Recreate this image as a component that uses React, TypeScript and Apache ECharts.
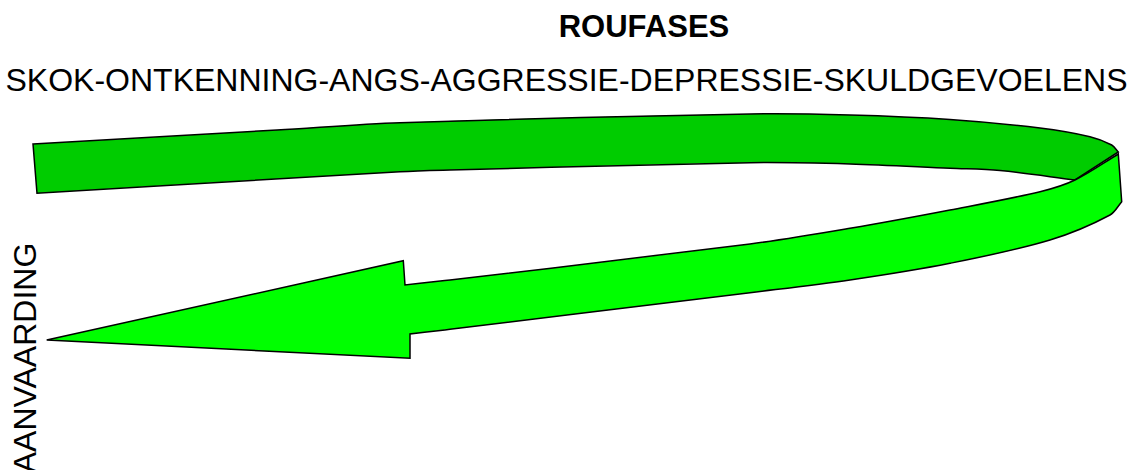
import React, { useEffect, useRef } from "react";
import * as echarts from "echarts";

// ---- Text content ----
const TITLE = "ROUFASES";
const PHASES = ["SKOK", "ONTKENNING", "ANGS", "AGGRESSIE", "DEPRESSIE", "SKULDGEVOELENS"];
const FINAL_PHASE = "AANVAARDING";

// ---- Ribbon outline points (in the 1135 x 470 data space) ----
// Top (dark) surface of the ribbon
const DARK_TOP_EDGE: number[][] = [
  [33, 144], [277, 130], [400, 122.7], [750, 114], [850, 115], [950, 119.5],
  [1040, 128], [1090, 136.7], [1111.7, 145], [1118.3, 152],
];
const DARK_INNER_EDGE: number[][] = [
  [1075, 180], [1000, 170.5], [950, 168.3], [850, 164], [750, 162.7], [450, 170], [400, 171.7], [37, 193.3],
];
// Front (light) band with the arrow head
const FRONT_TOP_EDGE: number[][] = [
  [1118.3, 154], [1075, 180], [1040, 191.7], [950, 210], [850, 228.3], [750, 244], [450, 280], [405, 285],
];
const ARROW_HEAD: number[][] = [
  [403.3, 260.7], [46.7, 340], [410, 358.3], [410, 334],
];
const FRONT_BOTTOM_EDGE: number[][] = [
  [410, 334], [450, 329.3], [750, 292.7], [850, 280], [950, 263.3], [1050, 240], [1110, 215], [1121.7, 201.7],
];

type Edge = { curve: boolean; pts: number[][] };
const SHAPES: { edges: Edge[]; fill: string }[] = [
  {
    fill: "#00CC00",
    edges: [
      { curve: true, pts: DARK_TOP_EDGE },
      { curve: true, pts: DARK_INNER_EDGE },
    ],
  },
  {
    fill: "#00FF00",
    edges: [
      { curve: true, pts: FRONT_TOP_EDGE },
      { curve: false, pts: ARROW_HEAD },
      { curve: true, pts: FRONT_BOTTOM_EDGE },
    ],
  },
];

function curvePath(p: number[][]): string {
  // smooth cubic through points, tangents scaled by segment length
  const n = p.length;
  const dist = (a: number[], b: number[]) => Math.hypot(b[0] - a[0], b[1] - a[1]);
  const tan: number[][] = p.map((pt, i) => {
    const a = p[Math.max(0, i - 1)];
    const b = p[Math.min(n - 1, i + 1)];
    const d = dist(a, pt) + dist(pt, b) || 1;
    return [(b[0] - a[0]) / d, (b[1] - a[1]) / d];
  });
  let s = "";
  for (let i = 0; i < n - 1; i++) {
    const d = dist(p[i], p[i + 1]) / 3;
    const c1 = [p[i][0] + tan[i][0] * d, p[i][1] + tan[i][1] * d];
    const c2 = [p[i + 1][0] - tan[i + 1][0] * d, p[i + 1][1] - tan[i + 1][1] * d];
    s += ` C ${c1[0]} ${c1[1]} ${c2[0]} ${c2[1]} ${p[i + 1][0]} ${p[i + 1][1]}`;
  }
  return s;
}

export default function App() {
  const ref = useRef<HTMLDivElement>(null);
  useEffect(() => {
    if (!ref.current) return;
    const chart = echarts.init(ref.current, undefined, { renderer: "svg" });
    const font = "'Liberation Sans', Arial, Helvetica, sans-serif";
    chart.setOption({
      animation: false,
      backgroundColor: "#ffffff",
      grid: { left: 0, right: 0, top: 0, bottom: 0 },
      xAxis: { type: "value", min: 0, max: 1135, show: false },
      yAxis: { type: "value", min: 0, max: 470, inverse: true, show: false },
      series: [
        {
          type: "custom",
          clip: false,
          silent: true,
          data: SHAPES.map((_, i) => [i, 0]),
          renderItem: (params: any, api: any) => {
            const shape = SHAPES[params.dataIndex];
            let d = "";
            shape.edges.forEach((edge, ei) => {
              const pts = edge.pts.map((q) => api.coord(q));
              if (ei === 0) d += `M ${pts[0][0]} ${pts[0][1]}`;
              else d += ` L ${pts[0][0]} ${pts[0][1]}`;
              if (edge.curve) d += curvePath(pts);
              else for (let k = 1; k < pts.length; k++) d += ` L ${pts[k][0]} ${pts[k][1]}`;
            });
            d += " Z";
            return {
              type: "path",
              shape: { pathData: d },
              style: { fill: shape.fill, stroke: "#000000", lineWidth: 1.5, lineJoin: "miter" },
            };
          },
        },
      ],
      graphic: [
        {
          type: "text",
          x: 644,
          y: 26,
          style: {
            text: TITLE,
            font: `bold 31px ${font}`,
            fill: "#000",
            align: "center",
            verticalAlign: "middle",
          },
        },
        {
          type: "text",
          x: 566.5,
          y: 80,
          style: {
            text: PHASES.join("-"),
            font: `32px ${font}`,
            fill: "#000",
            align: "center",
            verticalAlign: "middle",
          },
        },
        {
          type: "text",
          x: 25,
          y: 358,
          rotation: Math.PI / 2,
          style: {
            text: FINAL_PHASE,
            font: `32px ${font}`,
            fill: "#000",
            align: "center",
            verticalAlign: "middle",
          },
        },
      ],
    });
    return () => chart.dispose();
  }, []);
  return (
    <div
      ref={ref}
      style={{ position: "fixed", left: 0, top: 0, width: 1135, height: 470, background: "#fff" }}
    />
  );
}
